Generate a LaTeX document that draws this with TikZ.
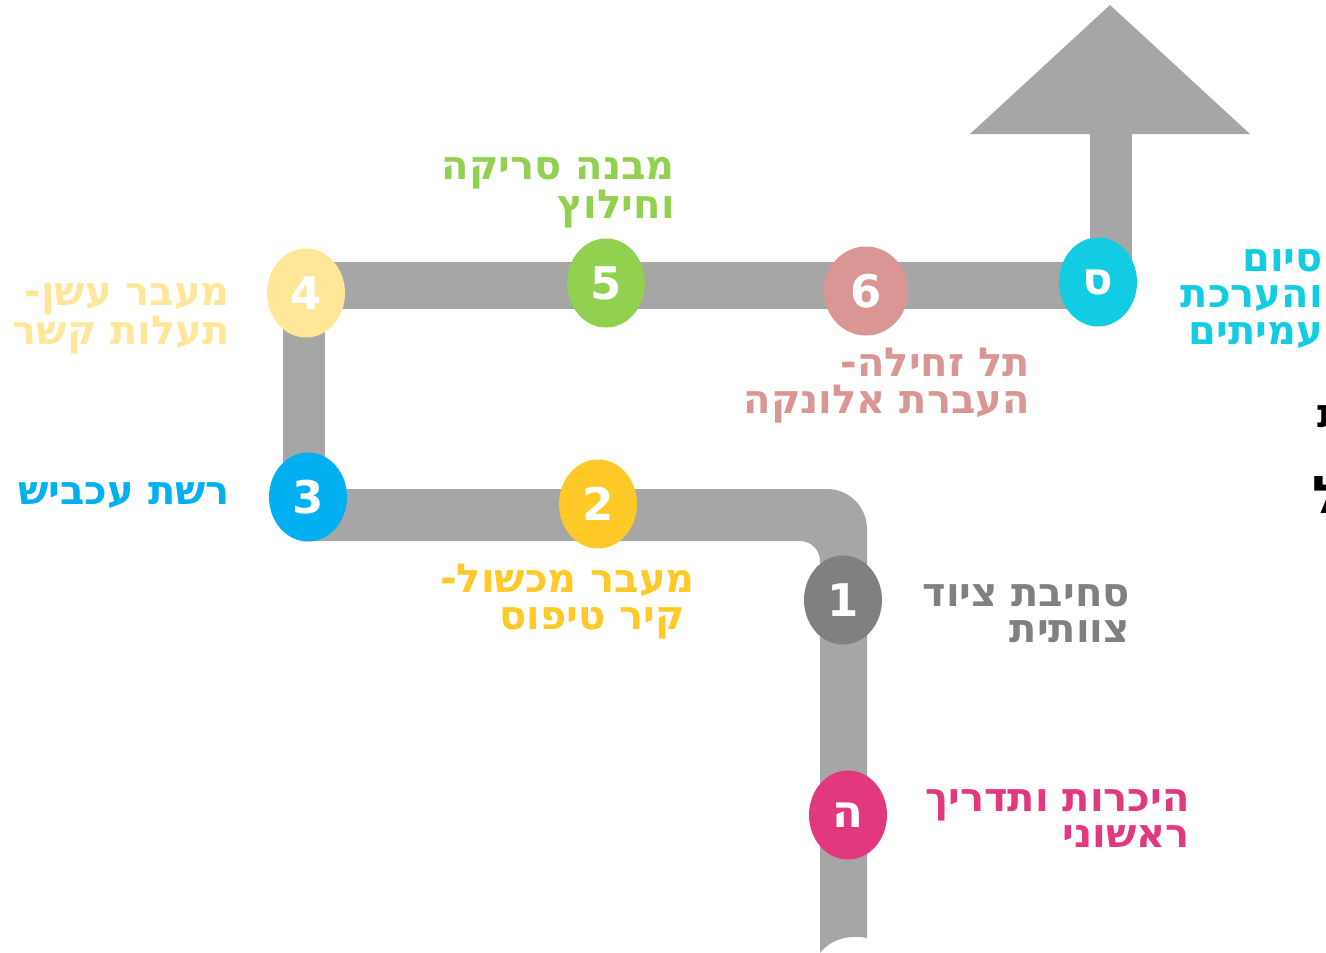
\documentclass[tikz,border=0pt]{standalone}
\usepackage{fontspec}
\usetikzlibrary{shapes.geometric}
\TeXXeTstate=1
\newfontfamily\heb[Script=Hebrew]{DejaVu Sans}
\definecolor{road}{HTML}{A6A6A6}
\definecolor{cpink}{HTML}{E2387F}
\definecolor{cgray}{HTML}{808080}
\definecolor{cyel}{HTML}{FFCA28}
\definecolor{cblue}{HTML}{00B0F0}
\definecolor{clyel}{HTML}{FFE699}
\definecolor{cgreen}{HTML}{92D050}
\definecolor{crose}{HTML}{DA9694}
\definecolor{ccyan}{HTML}{12CCE4}
\tikzset{
  lbl/.style={font=\heb\bfseries\fontsize{40}{36.5}\selectfont, align=right, inner sep=0pt, anchor=north east},
  dot/.style={ellipse, minimum width=78pt, minimum height=89pt, inner sep=0pt, text=white,
    font=\heb\bfseries\fontsize{45}{45}\selectfont},
}
\begin{document}
\begin{tikzpicture}[x=1pt,y=-1pt]
\useasboundingbox (0,0) rectangle (1326,953);
\clip (0,0) rectangle (1326,953);
% road
\fill[road] (300,489) -- (827,489) arc[start angle=-90,end angle=0,radius=40]
  -- (867,938) .. controls (848,934) and (830,940) .. (820,953)
  -- (820,561) arc[start angle=0,end angle=-90,radius=20] -- (300,541) -- cycle;
\fill[road] (283,290) rectangle (325,500);
\fill[road] (306,262) rectangle (1105,309);
\fill[road] (1090,120) rectangle (1132,285);
\fill[road] (970,134) -- (1110,5) -- (1250,134) -- cycle;
% dots
\node[dot, fill=cpink] (h) at (848,815) {\beginR ה\endR};
\node[dot, fill=cgray] (n1) at (843,600) {1};
\node[dot, fill=cyel] (n2) at (598,504) {2};
\node[dot, fill=cblue] (n3) at (308,497) {3};
\node[dot, fill=clyel] (n4) at (306,293) {4};
\node[dot, fill=cgreen] (n5) at (606,283) {5};
\node[dot, fill=crose, minimum width=84pt] (n6) at (866,291) {6};
\node[dot, fill=ccyan] (s) at (1098,282) {\beginR ס\endR};
% labels
\node[lbl, text=ccyan] (ls) at (1323,249) {\beginR סיום\endR\\\beginR והערכת\endR\\\beginR עמיתים\endR};
\node[lbl, text=clyel] (l4) at (230,283) {\beginR מעבר עשן-\endR\\\beginR תעלות קשר\endR};
\node[lbl, text=cblue] (l3) at (230,482) {\beginR רשת עכביש\endR};
\node[lbl, text=cgreen] (l5) at (675,157) {\beginR מבנה סריקה\endR\\\beginR וחילוץ\endR};
\node[lbl, text=crose] (l6) at (1030,348) {\beginR תל זחילה-\endR\\\beginR העברת אלונקה\endR};
\node[lbl, text=cyel] (l2) at (695,564) {\beginR מעבר מכשול-\endR\\\beginR קיר טיפוס\endR\hspace*{10pt}};
\node[lbl, text=cgray] (l1) at (1130,584) {\beginR סחיבת ציוד\endR\\\beginR צוותית\endR};
\node[lbl, text=cpink] (lh) at (1190,789) {\beginR היכרות ותדריך\endR\\\beginR ראשוני\endR};
% clipped title fragments
\node[font=\heb\bfseries\fontsize{40}{40}\selectfont, anchor=base west, inner sep=0pt] (t1) at (1317,427) {\beginR ת\endR};
\node[font=\heb\bfseries\fontsize{52}{52}\selectfont, anchor=base west, inner sep=0pt] (t2) at (1312,513) {\beginR ל\endR};
\end{tikzpicture}
\end{document}
